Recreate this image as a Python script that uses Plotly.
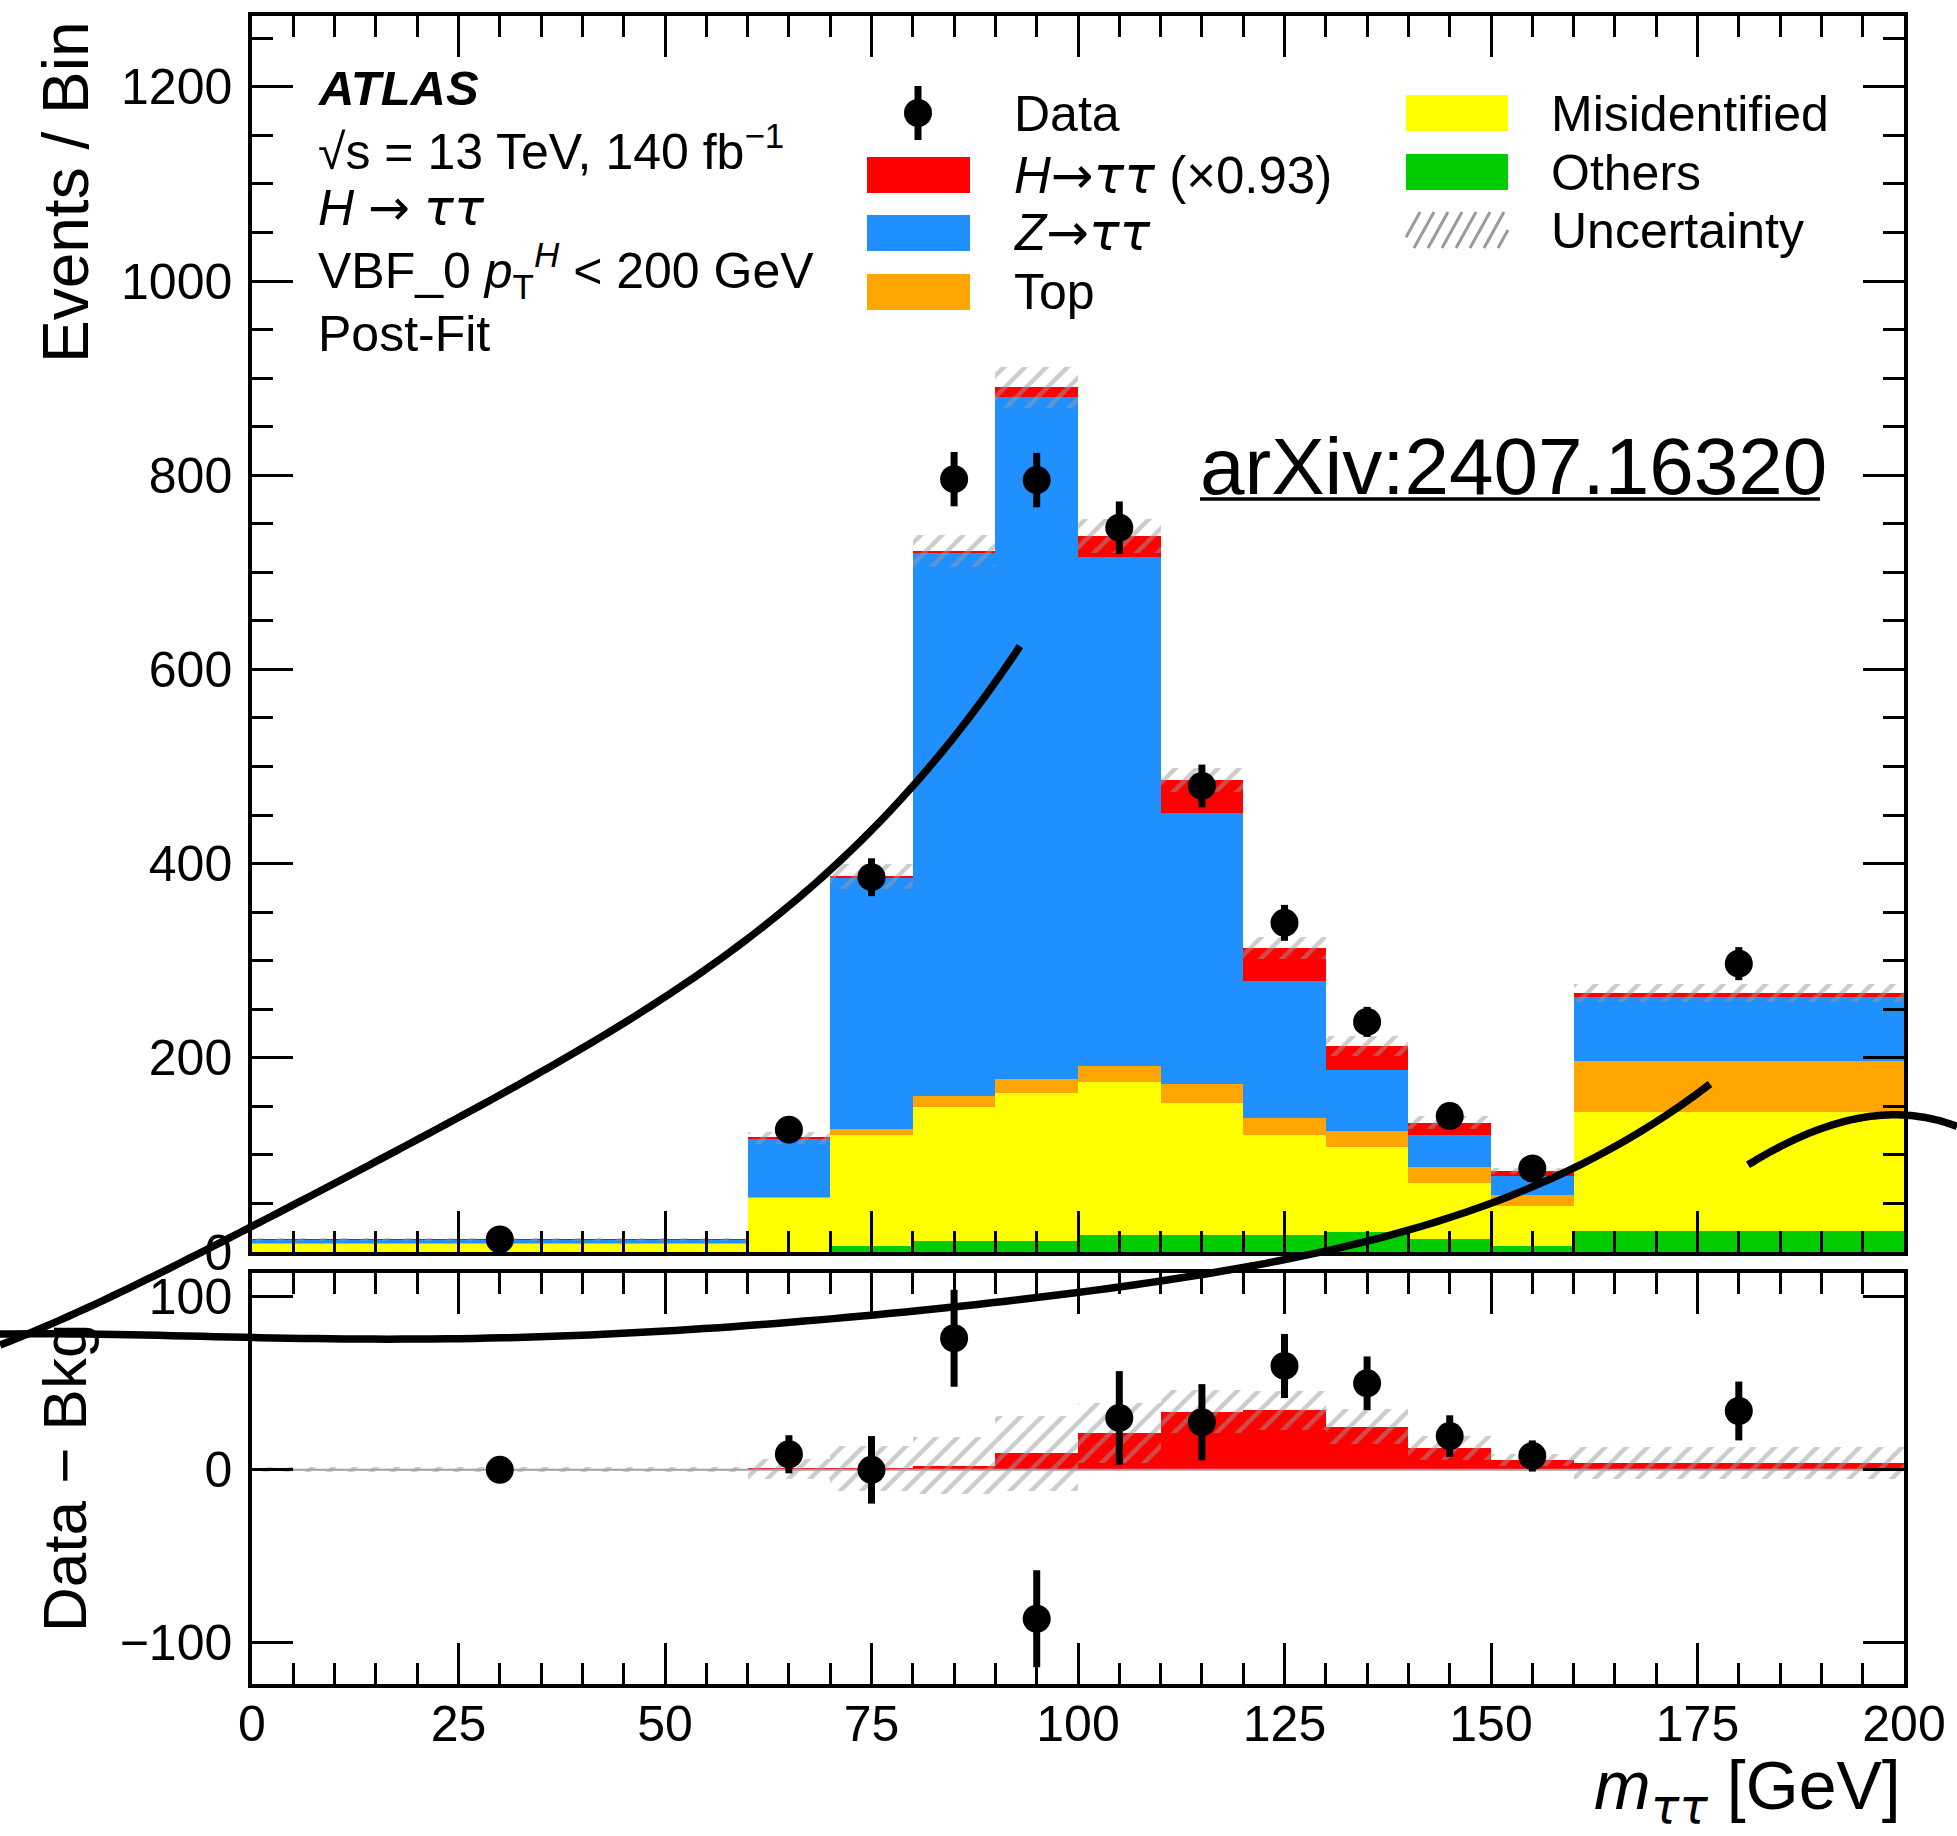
import numpy as np
import plotly.graph_objects as go

# ---------------- data ----------------
bin_lo = [0, 60, 70, 80, 90, 100, 110, 120, 130, 140, 150, 160]
bin_hi = [60, 70, 80, 90, 100, 110, 120, 130, 140, 150, 160, 200]
others = [0.3, 0.5, 6, 11, 11, 17, 17, 18, 21, 13, 6, 22]
misid = [8.7, 55.5, 114, 138, 153, 158, 136, 102, 87, 58, 41, 122]
top_bkg = [0.2, 1, 7, 12, 14, 17, 20.5, 18, 17, 16.5, 12, 53]
ztautau = [3.8, 60, 259, 559, 703, 524, 279, 141, 62, 33, 19, 66]
htautau = [0.2, 0.5, 1, 2.3, 9.5, 21.2, 33.7, 34.3, 25, 12.7, 5.5, 4]
uncert = [1.5, 6, 13, 16.5, 21.5, 17.5, 12.7, 11.5, 10, 7, 3.5, 9]
data_x = [30, 65, 75, 85, 95, 105, 115, 125, 135, 145, 155, 180]
data_y = [13, 126, 386, 796, 795, 746, 480, 339, 237, 140, 86, 297]
data_err = [3.6, 11, 19.5, 28, 28, 27, 22, 18.5, 15.5, 12, 9, 17]

x_ticks_main = [0, 25, 50, 75, 100, 125, 150, 175, 200]

# ---------------- geometry helpers ----------------
W, H = 1957, 1836
ML, MR, MT, MB = 252, 53, 16, 152
PW, PH = W - ML - MR, H - MT - MB


def px(X):
    return (X - ML) / PW


def py(Y):
    return (H - MB - Y) / PH


FONT = "Liberation Sans, Arial, Helvetica, sans-serif"
C_OTH, C_MIS, C_TOP, C_Z, C_H = "#00CC00", "#FFFF00", "#FFA500", "#2090FF", "#FF0000"
HATCH = "#9a9a9a"
ARROW = "<span style='font-family:DejaVu Sans'>→</span>"
TT = "<span style='font-family:DejaVu Sans'>ττ</span>"

lo = np.array(bin_lo, float)
hi = np.array(bin_hi, float)
cen = (lo + hi) / 2
wid = hi - lo
stack = [np.array(a, float) for a in (others, misid, top_bkg, ztautau, htautau)]
colors = [C_OTH, C_MIS, C_TOP, C_Z, C_H]
names = ["Others", "Misidentified", "Top", "Z→ττ", "H→ττ"]
bases = np.cumsum([np.zeros(len(lo))] + stack[:-1], axis=0)
total = bases[-1] + stack[-1]
bkg = bases[-1]
unc = np.array(uncert, float)
sig = stack[-1]
diff = np.array(data_y, float) - bkg[np.searchsorted(hi, np.array(data_x), side="left")]

fig = go.Figure()

# main stacked histogram
for b, h, c, n in zip(bases, stack, colors, names):
    fig.add_trace(go.Bar(x=cen, y=h, base=b, width=wid, marker=dict(color=c, line=dict(width=0)),
                         name=n, showlegend=False, xaxis="x", yaxis="y", hoverinfo="skip"))
# uncertainty hatch (main)
hatch_marker = dict(color="rgba(0,0,0,0)", line=dict(width=0),
                    pattern=dict(shape="/", fgcolor=HATCH, bgcolor="rgba(0,0,0,0)",
                                 size=15, solidity=0.3, fillmode="overlay"))
fig.add_trace(go.Bar(x=cen, y=2 * unc, base=total - unc, width=wid, marker=hatch_marker,
                     showlegend=False, xaxis="x", yaxis="y", hoverinfo="skip"))
# data (main)
fig.add_trace(go.Scatter(x=data_x, y=data_y, mode="markers",
                         marker=dict(color="black", size=28),
                         error_y=dict(type="data", array=data_err, color="black", thickness=7, width=0),
                         showlegend=False, xaxis="x", yaxis="y", hoverinfo="skip"))

# ratio panel: signal, hatch, zero line, data-bkg
fig.add_trace(go.Bar(x=cen, y=sig, base=np.zeros(len(lo)), width=wid,
                     marker=dict(color=C_H, line=dict(width=0)),
                     showlegend=False, xaxis="x2", yaxis="y2", hoverinfo="skip"))
fig.add_trace(go.Bar(x=cen, y=2 * unc, base=sig - unc, width=wid, marker=hatch_marker,
                     showlegend=False, xaxis="x2", yaxis="y2", hoverinfo="skip"))
fig.add_trace(go.Scatter(x=[0, 200], y=[0, 0], mode="lines", line=dict(color="#a0a0a0", width=2),
                         showlegend=False, xaxis="x2", yaxis="y2", hoverinfo="skip"))
fig.add_trace(go.Scatter(x=data_x, y=diff, mode="markers",
                         marker=dict(color="black", size=28),
                         error_y=dict(type="data", array=data_err, color="black", thickness=7, width=0),
                         showlegend=False, xaxis="x2", yaxis="y2", hoverinfo="skip"))

tickfont = dict(family=FONT, size=50, color="black")
common_x = dict(range=[0, 200], tickvals=x_ticks_main, ticks="inside", ticklen=41, tickwidth=3,
                tickcolor="black", showline=True, linewidth=3.5, linecolor="black",
                mirror="ticks", showgrid=False, zeroline=False,
                minor=dict(ticks="inside", ticklen=21, tickwidth=3, dtick=5, tick0=0,
                           tickcolor="black", showgrid=False))

fig.update_layout(
    width=W, height=H,
    margin=dict(l=ML, r=MR, t=MT, b=MB, pad=0),
    paper_bgcolor="white", plot_bgcolor="white",
    barmode="overlay", bargap=0,
    showlegend=False,
    font=dict(family=FONT, color="black"),
    xaxis=dict(common_x, anchor="y", domain=[0, 1], showticklabels=False),
    yaxis=dict(range=[0, 1273], domain=[py(1252), 1], tickvals=[0, 200, 400, 600, 800, 1000, 1200],
               ticks="inside", ticklen=41, tickwidth=3, tickcolor="black",
               showline=True, linewidth=3.5, linecolor="black", mirror="ticks",
               showgrid=False, zeroline=False, tickfont=tickfont, ticklabelstandoff=6,
               minor=dict(ticks="inside", ticklen=21, tickwidth=3, dtick=50, tick0=0,
                          tickcolor="black", showgrid=False),
               anchor="x"),
    xaxis2=dict(common_x, anchor="y2", domain=[0, 1], matches="x", showticklabels=True,
                tickfont=tickfont, ticklabelstandoff=-7),
    yaxis2=dict(range=[-123.7, 113.7], domain=[0, py(1273)], tickvals=[-100, 0, 100],
                ticks="inside", ticklen=41, tickwidth=3, tickcolor="black",
                showline=True, linewidth=3.5, linecolor="black", mirror="ticks",
                showgrid=False, zeroline=False, tickfont=tickfont, ticklabelstandoff=6,
                anchor="x2"),
)

ann = []


def text(X, Y, s, size, xanchor="left", angle=0, yanchor="middle"):
    ann.append(dict(x=px(X), y=py(Y), xref="paper", yref="paper", text=s, showarrow=False,
                    xanchor=xanchor, yanchor=yanchor, textangle=angle,
                    font=dict(family=FONT, size=size, color="black")))


# axis titles
text(66, 192, "Events / Bin", 64, xanchor="center", angle=-90)
text(64, 1478, "Data − Bkg", 62, xanchor="center", angle=-90)
text(1903, 1790, f"<i>m</i><sub><i>{TT}</i></sub> [GeV]", 68, xanchor="right")

# ATLAS block
text(316, 88, "<b><i>ATLAS</i></b>", 49)
text(316, 148, "√s = 13 TeV, 140 fb<sup>−1</sup>", 50)
text(316, 208, f"<i>H</i> {ARROW} <i>{TT}</i>", 50)
text(316, 270, "VBF_0 <i>p</i><sub>T</sub><sup><i>H</i></sup> &lt; 200 GeV", 50)
text(316, 334, "Post-Fit", 50)

# arXiv label
text(1198, 466, "arXiv:2407.16320", 80)

# legend texts
text(1012, 114, "Data", 50)
text(1012, 176, f"<i>H</i>{ARROW}<i>{TT}</i> (×0.93)", 51)
text(1012, 233, f"<i>Z</i>{ARROW}<i>{TT}</i>", 51)
text(1012, 292, "Top", 50)
text(1549, 114, "Misidentified", 50)
text(1549, 173, "Others", 50)
text(1549, 231, "Uncertainty", 50)

shapes = []


def rect(x0, y0, x1, y1, color):
    shapes.append(dict(type="rect", xref="paper", yref="paper", x0=px(x0), x1=px(x1),
                       y0=py(y0), y1=py(y1), fillcolor=color, line=dict(width=0), layer="above"))


rect(867, 157, 970, 193, C_H)
rect(867, 215, 970, 251, C_Z)
rect(867, 274, 970, 310, C_TOP)
rect(1406, 95, 1508, 131, C_MIS)
rect(1406, 154, 1508, 190, C_OTH)

# legend hatch patch
hx0, hx1, hy0, hy1 = 1406, 1508, 212, 248
segs = []
dxl = 20.0
c = hx0 - dxl
while c < hx1:
    xa, ya, xb, yb = c, hy1, c + dxl, hy0
    if xa < hx0:
        t = (hx0 - xa) / dxl
        xa, ya = hx0, hy1 + (hy0 - hy1) * t
    if xb > hx1:
        t = (hx1 - c) / dxl
        xb, yb = hx1, hy1 + (hy0 - hy1) * t
    segs.append(f"M {px(xa)},{py(ya)} L {px(xb)},{py(yb)}")
    c += 14
shapes.append(dict(type="path", xref="paper", yref="paper", path=" ".join(segs),
                   line=dict(color=HATCH, width=3), layer="above"))

# legend data marker
shapes.append(dict(type="line", xref="paper", yref="paper", x0=px(918), x1=px(918),
                   y0=py(86), y1=py(140), line=dict(color="black", width=7), layer="above"))
shapes.append(dict(type="circle", xref="paper", yref="paper", x0=px(904), x1=px(932),
                   y0=py(99), y1=py(127), fillcolor="black", line=dict(width=0), layer="above"))

# arXiv underline
shapes.append(dict(type="line", xref="paper", yref="paper", x0=px(1200), x1=px(1820),
                   y0=py(499), y1=py(499), line=dict(color="black", width=3.5), layer="above"))

# hand-drawn overlay strokes (pixel positions), smoothed with a low-order fit
stroke_a = [(0, 1348), (33, 1330), (100, 1297), (167, 1270), (220, 1247), (253, 1227),
            (333, 1183), (400, 1147), (454, 1121), (556, 1064), (658, 1000), (760, 930),
            (826, 872), (913, 788), (964, 725), (1020, 645)]
stroke_b = [(0, 1333), (100, 1336), (253, 1338), (400, 1338), (550, 1335), (700, 1329),
            (800, 1322), (874, 1315), (955, 1309), (1078, 1293), (1200, 1274), (1315, 1251),
            (1406, 1230), (1527, 1190), (1612, 1150), (1650, 1127), (1710, 1082)]
stroke_c = [(1748, 1165), (1783, 1145), (1817, 1130), (1850, 1120), (1883, 1116),
            (1903, 1115), (1933, 1118), (1957, 1127)]


def smooth_stroke(pts, deg):
    xs = np.array([p[0] for p in pts], float)
    ys = np.array([p[1] for p in pts], float)
    coef = np.polyfit(xs, ys, deg)
    xx = np.linspace(xs[0], xs[-1], 120)
    yy = np.polyval(coef, xx)
    d = "M " + " L ".join(f"{px(a):.5f},{py(b):.5f}" for a, b in zip(xx, yy))
    return d


for s, dg in ((stroke_a, 4), (stroke_b, 5), (stroke_c, 3)):
    shapes.append(dict(type="path", xref="paper", yref="paper", path=smooth_stroke(s, dg),
                       line=dict(color="black", width=7.5), layer="above"))

fig.update_layout(annotations=ann, shapes=shapes)

fig.write_html("out.html", config={"displayModeBar": False},
               post_script="document.body.style.margin='0';document.body.style.overflow='hidden';")
